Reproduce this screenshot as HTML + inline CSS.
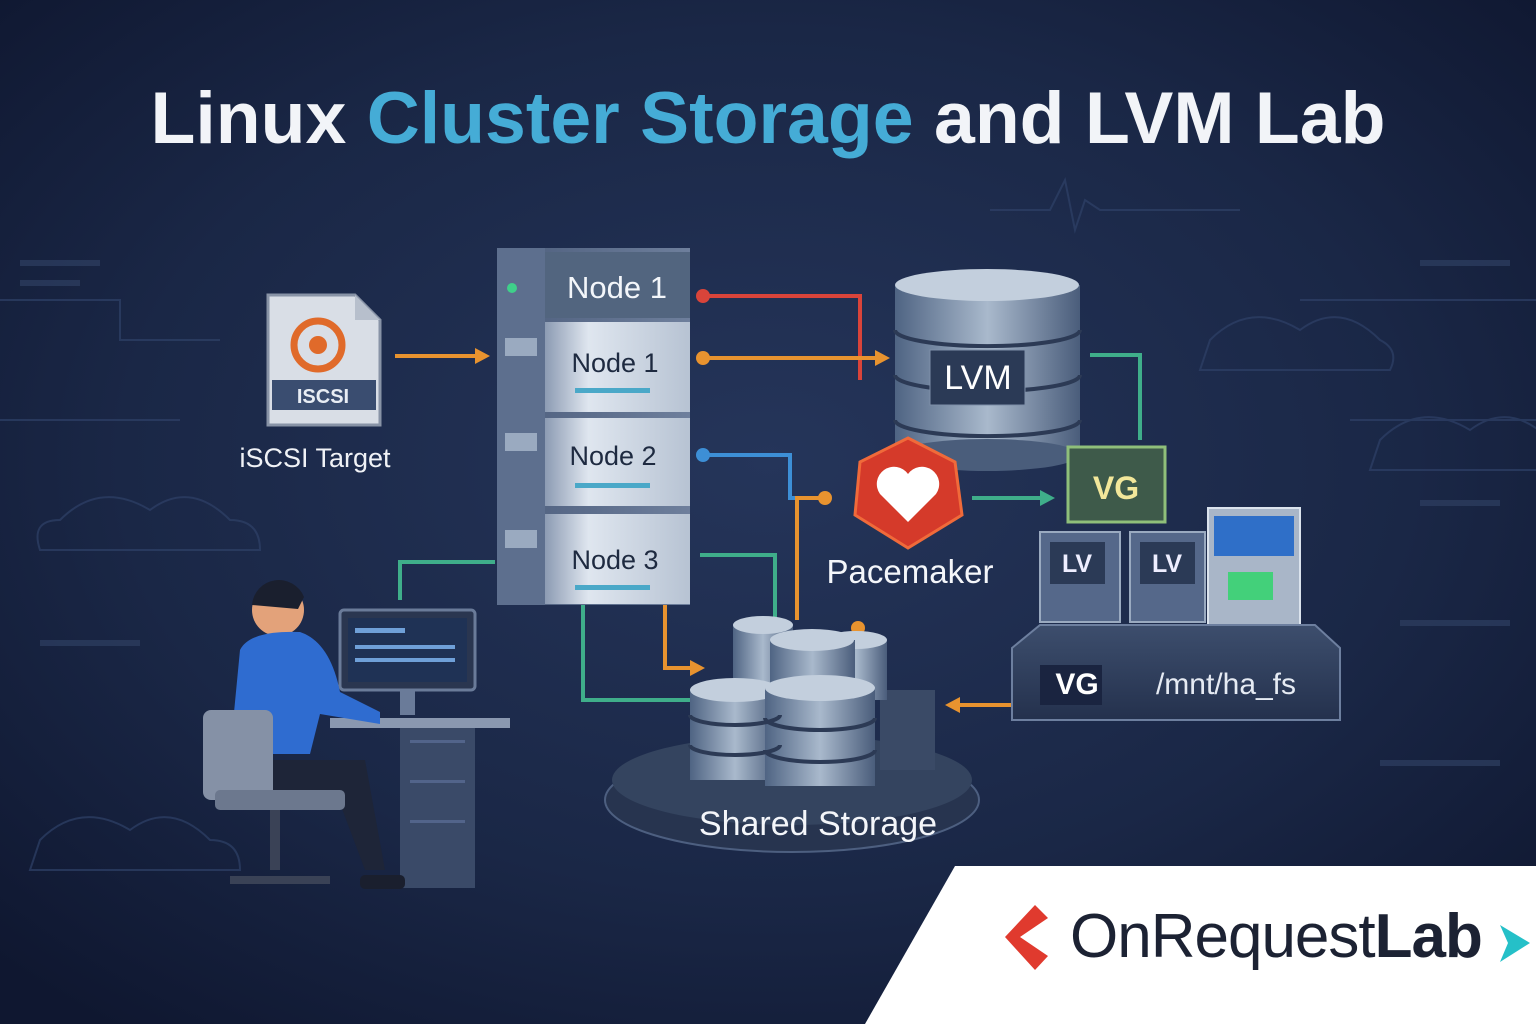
<!DOCTYPE html>
<html><head><meta charset="utf-8"><style>
html,body{margin:0;padding:0;width:1536px;height:1024px;overflow:hidden;background:#15203a}
svg{display:block}
text{font-family:"Liberation Sans","DejaVu Sans",sans-serif}
</style></head><body>
<svg width="1536" height="1024" viewBox="0 0 1536 1024" xmlns="http://www.w3.org/2000/svg">
<defs>
<radialGradient id="bg" cx="50%" cy="45%" r="70%">
<stop offset="0" stop-color="#25355a"/><stop offset="0.6" stop-color="#1a2746"/><stop offset="1" stop-color="#0f1730"/>
</radialGradient>
<linearGradient id="srv" x1="0" x2="1"><stop offset="0" stop-color="#8c9bb3"/><stop offset="0.3" stop-color="#dfe6ef"/><stop offset="1" stop-color="#b7c3d3"/></linearGradient>
<linearGradient id="srvd" x1="0" x2="1"><stop offset="0" stop-color="#4c5d7c"/><stop offset="1" stop-color="#6e7f9c"/></linearGradient>
<linearGradient id="cyl" x1="0" x2="1"><stop offset="0" stop-color="#4f6483"/><stop offset="0.5" stop-color="#a9b9cc"/><stop offset="1" stop-color="#4a5d7b"/></linearGradient>
<linearGradient id="plat" x1="0" x2="0" y1="0" y2="1"><stop offset="0" stop-color="#3d4e6d"/><stop offset="1" stop-color="#24314d"/></linearGradient>
</defs>
<rect width="1536" height="1024" fill="url(#bg)"/>
<g stroke="#2f4168" stroke-width="2" fill="none" opacity="0.7">
<path d="M0 300 H120 V340 H220"/><path d="M0 420 H180"/><path d="M1300 300 H1536"/><path d="M1350 420 H1536"/>
<path d="M990 210 H1050 L1065 180 L1075 230 L1085 200 L1100 210 H1240"/>
<path d="M60 520 q40 -40 90 -10 q40 -30 80 10 q30 0 30 30 H40 q-10 -30 20 -30z"/>
<path d="M1380 440 q40 -40 90 -10 q40 -30 80 10 v30 H1370z"/>
<path d="M1210 340 q40 -40 90 -10 q40 -30 80 10 q20 10 10 30 H1200z"/>
<path d="M40 840 q40 -40 90 -10 q40 -30 80 10 q30 0 30 30 H30z"/>
</g>
<g fill="#2c3c5e" opacity="0.8">
<rect x="20" y="260" width="80" height="6"/><rect x="20" y="280" width="60" height="6"/><rect x="1420" y="260" width="90" height="6"/><rect x="1420" y="500" width="80" height="6"/><rect x="1400" y="620" width="110" height="6"/><rect x="40" y="640" width="100" height="6"/><rect x="1380" y="760" width="120" height="6"/>
</g>
<text x="768" y="143" text-anchor="middle" font-size="73" font-weight="bold" fill="#f2f4f8" textLength="1235" lengthAdjust="spacingAndGlyphs"><tspan>Linux </tspan><tspan fill="#45acd6">Cluster Storage</tspan><tspan> and LVM Lab</tspan></text>

<g fill="none" stroke-width="4">
<path d="M395 356 H475" stroke="#e8932f"/><polygon points="475,348 490,356 475,364" fill="#e8932f"/>
<path d="M703 296 H860 V380" stroke="#d9443a"/>
<path d="M703 358 H875" stroke="#e8932f"/><polygon points="875,350 890,358 875,366" fill="#e8932f"/>
<path d="M703 455 H790 V498 H825" stroke="#3d8fd6"/>
<path d="M825 498 H797 V620" stroke="#e8932f"/>
<path d="M972 498 H1040" stroke="#3fae8a"/><polygon points="1040,490 1055,498 1040,506" fill="#3fae8a"/>
<path d="M1090 355 H1140 V440" stroke="#3fae8a"/>
<path d="M700 555 H775 V630" stroke="#3fae8a"/>
<path d="M665 605 V668 H690" stroke="#e8932f"/><polygon points="690,660 705,668 690,676" fill="#e8932f"/>
<path d="M583 605 V700 H690" stroke="#3fae8a"/>
<path d="M400 600 V562 H495" stroke="#3fae8a"/>
<path d="M1012 705 H960" stroke="#e8932f"/><polygon points="960,697 945,705 960,713" fill="#e8932f"/>
</g>
<circle cx="703" cy="296" r="7" fill="#d9443a"/><circle cx="703" cy="358" r="7" fill="#e8932f"/><circle cx="703" cy="455" r="7" fill="#3d8fd6"/><circle cx="825" cy="498" r="7" fill="#e8932f"/><circle cx="858" cy="628" r="7" fill="#e8932f"/>

<path d="M268 295 H355 L380 320 V425 H268z" fill="#d9dee6" stroke="#8893a6" stroke-width="3"/>
<path d="M355 295 V320 H380" fill="#b7bfcc"/>
<circle cx="318" cy="345" r="24" fill="none" stroke="#e06a2a" stroke-width="7"/><circle cx="318" cy="345" r="9" fill="#e06a2a"/>
<rect x="272" y="380" width="104" height="30" fill="#3a4d70"/>
<text x="323" y="403" text-anchor="middle" font-size="20" font-weight="bold" fill="#e8edf4">ISCSI</text>
<text x="315" y="467" text-anchor="middle" font-size="27" fill="#f0f2f6">iSCSI Target</text>

<rect x="497" y="248" width="193" height="357" fill="url(#srvd)"/>
<rect x="497" y="248" width="48" height="357" fill="#5d6f8e"/>
<rect x="545" y="252" width="145" height="66" fill="#52657f"/>
<text x="617" y="298" text-anchor="middle" font-size="31" fill="#f3f6fa">Node 1</text>
<circle cx="512" cy="288" r="5" fill="#3fd08a"/>
<rect x="545" y="322" width="145" height="90" fill="url(#srv)"/>
<rect x="545" y="418" width="145" height="88" fill="url(#srv)"/>
<rect x="545" y="514" width="145" height="90" fill="url(#srv)"/>
<text x="615" y="372" text-anchor="middle" font-size="27" fill="#1e2a40">Node 1</text>
<text x="613" y="465" text-anchor="middle" font-size="27" fill="#1e2a40">Node 2</text>
<text x="615" y="569" text-anchor="middle" font-size="27" fill="#1e2a40">Node 3</text>
<g fill="#4aa8c8"><rect x="575" y="388" width="75" height="5"/><rect x="575" y="483" width="75" height="5"/><rect x="575" y="585" width="75" height="5"/></g>
<g fill="#9aaac0"><rect x="505" y="338" width="32" height="18"/><rect x="505" y="433" width="32" height="18"/><rect x="505" y="530" width="32" height="18"/></g>

<rect x="895" y="285" width="185" height="170" fill="url(#cyl)"/>
<ellipse cx="987" cy="455" rx="92" ry="16" fill="#4a5d7b"/>
<ellipse cx="987" cy="285" rx="92" ry="16" fill="#c3cfdd"/>
<path d="M895 330 a92 16 0 0 0 185 0 M895 375 a92 16 0 0 0 185 0 M895 420 a92 16 0 0 0 185 0" stroke="#2c3a55" stroke-width="4" fill="none"/>
<rect x="930" y="350" width="95" height="55" fill="#2b3a56" stroke="#7e8fa8"/>
<text x="978" y="389" text-anchor="middle" font-size="34" fill="#fff">LVM</text>

<polygon points="908,438 955,462 962,515 908,548 855,515 860,462" fill="#d53a2a" stroke="#f06a3a" stroke-width="3"/>
<path d="M908 522 l-28 -28 a14 14 0 0 1 28 -20 a14 14 0 0 1 28 20z" fill="#fff"/>
<text x="910" y="583" text-anchor="middle" font-size="33" fill="#f4f6fa">Pacemaker</text>

<rect x="1068" y="447" width="97" height="75" fill="#3e5a4a" stroke="#8fbf7a" stroke-width="3"/>
<text x="1116" y="499" text-anchor="middle" font-size="32" font-weight="bold" fill="#f2e79a">VG</text>
<rect x="1040" y="532" width="80" height="90" fill="#55688a" stroke="#9aaac0" stroke-width="2"/>
<rect x="1130" y="532" width="75" height="90" fill="#55688a" stroke="#9aaac0" stroke-width="2"/>
<rect x="1050" y="542" width="55" height="42" fill="#2b3a56"/><rect x="1140" y="542" width="55" height="42" fill="#2b3a56"/>
<text x="1077" y="572" text-anchor="middle" font-size="25" font-weight="bold" fill="#eef">LV</text>
<text x="1167" y="572" text-anchor="middle" font-size="25" font-weight="bold" fill="#eef">LV</text>
<rect x="1208" y="508" width="92" height="117" fill="#a9b6c8" stroke="#dbe3ed" stroke-width="2"/>
<rect x="1214" y="516" width="80" height="40" fill="#2f6fc8"/>
<rect x="1228" y="572" width="45" height="28" fill="#43d07a"/>
<polygon points="1012,648 1040,625 1315,625 1340,648 1340,720 1012,720" fill="url(#plat)" stroke="#6d7f9f" stroke-width="2"/>
<rect x="1040" y="665" width="62" height="40" fill="#1a2440"/>
<text x="1077" y="694" text-anchor="middle" font-size="30" font-weight="bold" fill="#fff">VG</text>
<text x="1226" y="694" text-anchor="middle" font-size="30" fill="#e6ebf3">/mnt/ha_fs</text>

<ellipse cx="792" cy="800" rx="187" ry="52" fill="#27344f" stroke="#4d5f80" stroke-width="2"/>
<ellipse cx="792" cy="780" rx="180" ry="45" fill="#34445f"/>
<rect x="880" y="690" width="55" height="80" fill="#3a4a66"/>
<rect x="733" y="625" width="60" height="70" fill="url(#cyl)"/><ellipse cx="763" cy="625" rx="30" ry="9" fill="#c3cfdd"/>
<rect x="825" y="640" width="62" height="60" fill="url(#cyl)"/><ellipse cx="856" cy="640" rx="31" ry="9" fill="#c3cfdd"/>
<rect x="770" y="640" width="85" height="60" fill="url(#cyl)"/><ellipse cx="812" cy="640" rx="42" ry="11" fill="#c3cfdd"/>
<rect x="690" y="690" width="90" height="90" fill="url(#cyl)"/><ellipse cx="735" cy="690" rx="45" ry="12" fill="#c3cfdd"/>
<rect x="765" y="688" width="110" height="98" fill="url(#cyl)"/><ellipse cx="820" cy="688" rx="55" ry="13" fill="#c3cfdd"/>
<path d="M690 715 a45 10 0 0 0 90 0 M690 745 a45 10 0 0 0 90 0 M765 718 a55 12 0 0 0 110 0 M765 750 a55 12 0 0 0 110 0" stroke="#2c3a55" stroke-width="4" fill="none"/>
<text x="818" y="835" text-anchor="middle" font-size="34" fill="#f4f6fa">Shared Storage</text>

<rect x="340" y="610" width="135" height="80" rx="4" fill="#2a3650" stroke="#6a7b99" stroke-width="3"/>
<rect x="348" y="618" width="119" height="64" fill="#1f3255"/>
<g fill="#6fa0d8"><rect x="355" y="628" width="50" height="5"/><rect x="355" y="645" width="100" height="4"/><rect x="355" y="658" width="100" height="4"/></g>
<rect x="400" y="690" width="15" height="25" fill="#6a7b99"/>
<rect x="330" y="718" width="180" height="10" fill="#8a98b0"/>
<rect x="400" y="728" width="75" height="160" fill="#3a4a68"/>
<g fill="#52648a"><rect x="410" y="740" width="55" height="3"/><rect x="410" y="780" width="55" height="3"/><rect x="410" y="820" width="55" height="3"/></g>
<circle cx="278" cy="610" r="26" fill="#e3a27a"/>
<path d="M252 605 a27 27 0 0 1 52 -8 l-6 12 z" fill="#1a1f2e"/>
<path d="M240 650 q10 -20 60 -18 q30 10 40 60 l40 20 v12 l-60 -10 l-10 40 h-80z" fill="#2f6cd0"/>
<path d="M255 760 h110 l20 110 h-20 l-30 -80 h-80z" fill="#1e2538"/>
<rect x="203" y="710" width="70" height="90" rx="8" fill="#8591a6"/>
<rect x="215" y="790" width="130" height="20" rx="5" fill="#6c788e"/>
<rect x="270" y="810" width="10" height="60" fill="#3a4256"/>
<path d="M230 880 h100" stroke="#3a4256" stroke-width="8"/>
<rect x="360" y="875" width="45" height="14" rx="5" fill="#1a1f2e"/>

<polygon points="865,1024 955,866 1536,866 1536,1024" fill="#ffffff"/>
<polygon points="1035,905 1048,918 1020,937 1048,956 1035,970 1005,937" fill="#e03a2e"/>
<text x="1070" y="957" font-size="62" fill="#1c2233" letter-spacing="-1">OnRequest<tspan font-weight="bold">Lab</tspan></text>
<polygon points="1500,925 1530,943 1500,962 1508,943" fill="#25c0c8"/>
</svg>
</body></html>
